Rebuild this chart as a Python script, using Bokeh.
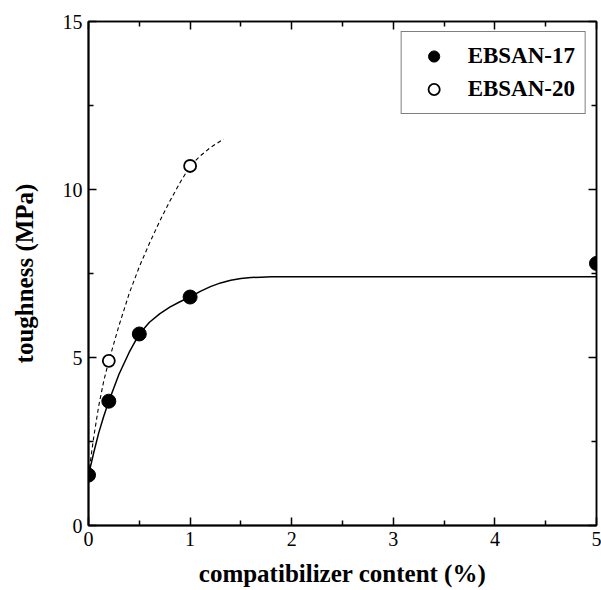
from bokeh.plotting import figure
from bokeh.models import (LinearAxis, FixedTicker, Range1d, Legend, LegendItem)
from bokeh.embed import file_html
from bokeh.resources import INLINE

# data
x17 = [0, 0.2, 0.5, 1.0, 5.0]
y17 = [1.5, 3.7, 5.7, 6.8, 7.8]
x20 = [0.2, 1.0]
y20 = [4.9, 10.7]

# fitted curves as drawn in the picture (read points)
fit17_x = [0, 0.05, 0.1, 0.15, 0.2, 0.3, 0.4, 0.5, 0.6, 0.7, 0.8, 0.9, 1.0,
           1.1, 1.2, 1.3, 1.4, 1.5, 1.6, 1.7, 1.8, 2.0, 5.0]
fit17_y = [1.5, 2.15, 2.75, 3.25, 3.7, 4.5, 5.15, 5.7, 6.05, 6.3, 6.5, 6.66, 6.8,
           6.97, 7.11, 7.22, 7.3, 7.35, 7.38, 7.39, 7.4, 7.4, 7.4]
fit20_x = [0, 0.05, 0.1, 0.15, 0.2, 0.3, 0.4, 0.5, 0.6, 0.7, 0.8, 0.9, 1.0,
           1.1, 1.2, 1.33]
fit20_y = [1.5, 2.6, 3.55, 4.3, 4.9, 5.95, 6.9, 7.7, 8.4, 9.05, 9.65, 10.2, 10.7,
           11.0, 11.25, 11.5]

x_ticks = [0, 1, 2, 3, 4, 5]
x_minor = [0.5, 1.5, 2.5, 3.5, 4.5]
y_ticks = [0, 5, 10, 15]
y_minor = [2.5, 7.5, 12.5]

SERIF = "Liberation Serif"

p = figure(width=601, height=590, output_backend="svg", toolbar_location=None,
           x_range=Range1d(0, 5), y_range=Range1d(0, 15),
           min_border_left=88, min_border_right=5, min_border_top=21,
           min_border_bottom=65, x_axis_location=None, y_axis_location=None)
p.grid.visible = False
p.outline_line_color = "black"
p.outline_line_width = 1.5
p.background_fill_color = "white"
p.border_fill_color = "white"


def style_axis(ax, ticks, minor, labels=True, lw=2):
    ax.ticker = FixedTicker(ticks=ticks, minor_ticks=minor)
    ax.axis_line_color = "black"
    ax.axis_line_width = lw
    ax.major_tick_in = 8
    ax.major_tick_out = 0
    ax.minor_tick_in = 5
    ax.minor_tick_out = 0
    ax.major_tick_line_width = 1.5
    ax.minor_tick_line_width = 1.5
    ax.major_tick_line_color = "black"
    ax.minor_tick_line_color = "black"
    if labels:
        ax.major_label_text_font = SERIF
        ax.major_label_text_font_size = "20px"
        ax.major_label_text_color = "black"
    else:
        ax.major_label_text_font_size = "1px"
        ax.major_label_text_color = None
        ax.major_label_standoff = 0


xb = LinearAxis(axis_label="compatibilizer content (%)")
style_axis(xb, x_ticks, x_minor)
xb.major_label_standoff = 6
xb.axis_label_text_font = SERIF
xb.axis_label_text_font_style = "bold"
xb.axis_label_text_font_size = "25px"
xb.axis_label_text_color = "black"
xb.axis_label_standoff = 11
p.add_layout(xb, "below")

yl = LinearAxis(axis_label="toughness (MPa)")
style_axis(yl, y_ticks, y_minor)
yl.major_label_standoff = 6
yl.axis_label_text_font = SERIF
yl.axis_label_text_font_style = "bold"
yl.axis_label_text_font_size = "25px"
yl.axis_label_text_color = "black"
yl.axis_label_standoff = 22
p.add_layout(yl, "left")

xt = LinearAxis()
style_axis(xt, x_ticks, x_minor, labels=False, lw=1.5)
p.add_layout(xt, "above")

yr = LinearAxis()
style_axis(yr, y_ticks, y_minor, labels=False, lw=1.5)
p.add_layout(yr, "right")

p.line(fit17_x, fit17_y, line_color="black", line_width=1.5)
p.line(fit20_x, fit20_y, line_color="black", line_width=1.1, line_dash="4 3")

r17 = p.scatter(x17, y17, marker="circle", size=14, fill_color="black",
                line_color="black")
r20 = p.scatter(x20, y20, marker="circle", size=12, fill_color="white",
                line_color="black", line_width=1.8)

legend = Legend(items=[LegendItem(label="EBSAN-17", renderers=[r17]),
                       LegendItem(label="EBSAN-20", renderers=[r20])],
                location="top_right")
legend.margin = 10
legend.padding = 10
legend.spacing = 5
legend.glyph_width = 44
legend.glyph_height = 28
legend.label_height = 28
legend.label_standoff = 12
legend.label_text_font = SERIF
legend.label_text_font_style = "bold"
legend.label_text_font_size = "23px"
legend.label_text_color = "black"
legend.border_line_color = "black"
legend.border_line_width = 1.5
legend.background_fill_color = "white"
legend.background_fill_alpha = 1
p.add_layout(legend, "center")

open("out.html", "w").write(file_html(p, INLINE))
